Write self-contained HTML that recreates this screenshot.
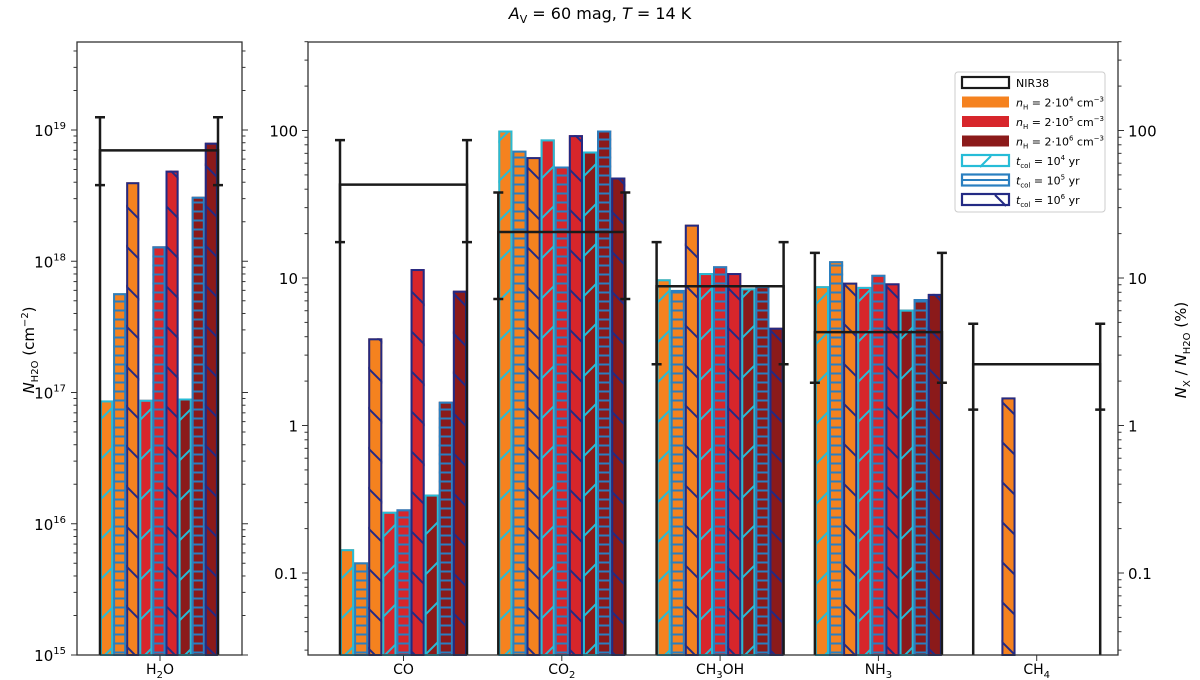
<!DOCTYPE html>
<html><head><meta charset="utf-8"><style>
body{margin:0;background:#fff;}
svg{display:block;font-family:"DejaVu Sans","Liberation Sans",sans-serif;}
</style></head><body>
<svg id="chart" width="1200" height="680" viewBox="0 0 1200 680" xmlns="http://www.w3.org/2000/svg">
<defs>
<pattern id="h-c" patternUnits="userSpaceOnUse" width="40" height="40"><path d="M-10,10 L10,-10 M0,40 L40,0 M30,50 L50,30" stroke="#26bcd7" stroke-width="2"/></pattern>
<pattern id="h-b" patternUnits="userSpaceOnUse" width="10" height="9"><path d="M0,4.5 L10,4.5" stroke="#2a7fc0" stroke-width="2"/></pattern>
<pattern id="h-n" patternUnits="userSpaceOnUse" width="40" height="40"><path d="M-10,30 L10,50 M0,0 L40,40 M30,-10 L50,10" stroke="#232a84" stroke-width="2"/></pattern>
</defs>
<text x="600" y="19" text-anchor="middle" font-size="16"><tspan font-style="italic">A</tspan><tspan font-size="11" dy="4">V</tspan><tspan dy="-4"> = 60 mag,  </tspan><tspan font-style="italic">T</tspan> = 14 K</text>
<g id="plot"></g>
</svg>
<script>
const ns="http://www.w3.org/2000/svg";
const root=document.getElementById('plot');
const colors=["#f5821f","#d7262b","#8b1a1a"];
const hatchColors=["#26bcd7","#2a7fc0","#232a84"];
const hatchIds=["h-c","h-b","h-n"];
// data
const h2oValues=[8.7e16,5.7e17,4e18,8.8e16,1.3e18,4.9e18,9e16,3.1e18,8e18];
const h2oObs=[7e18,3.8e18,1.25e19];
const categories=["CO","CO2","CH3OH","NH3","CH4"];
const coValues=[0.145,0.118,3.9,0.26,0.27,11.5,0.34,1.45,8.2];
const co2Values=[100,73,66,87,57,93,72,100,48];
const ch3ohValues=[9.8,8.3,23,10.8,12,10.8,8.5,8.8,4.6];
const nh3Values=[8.8,13,9.3,8.7,10.5,9.2,6.1,7.2,7.8];
const ch4Values=[0,0,1.55,0,0,0,0,0,0];
const obsCenter=[43,20.5,8.8,4.3,2.6];
const obsLow=[17.5,7.2,2.6,1.95,1.28];
const obsHigh=[86,38,17.5,14.8,4.9];
const leftTicks=[15,16,17,18,19];
const rightTickVals=[0.1,1,10,100];
const rightTickLabels=["0.1","1","10","100"];
const series=[coValues,co2Values,ch3ohValues,nh3Values,ch4Values];

function el(tag,attrs,parent){const e=document.createElementNS(ns,tag);for(const k in attrs)e.setAttribute(k,attrs[k]);(parent||root).appendChild(e);return e;}
const yB=655,yT=42;
const yL=v=>655-(Math.log10(v)-15)*131.25;
const yR=v=>573-(Math.log10(v)+1)*147.5;
const L={x0:77,x1:242}, R={x0:308,x1:1118};
const xLbar=i=>100+i*13.1; const wL=13.1;
const groupCenter=g=>403.5+g*158.3; const half=63.5; const wR=2*half/9;
const xRbar=(g,i)=>groupCenter(g)-half+i*wR;

function bar(x,w,y,i,name){
  const ci=Math.floor(i/3), hi=i%3;
  let r=el('rect',{x:x,y:y,width:w,height:yB-y,fill:colors[ci]});
  
  
  el('rect',{x:x,y:y,width:w,height:yB-y,fill:'url(#'+hatchIds[hi]+')'});
  el('rect',{x:x+1,y:y+1,width:w-2,height:yB-y-1,fill:'none',stroke:hatchColors[hi],'stroke-width':2});
}
function obs(xa,xb,yc,ylo,yhi,name){
  const g=el('g',{});
  
  
  el('path',{d:`M${xa},${yB} L${xa},${yc} L${xb},${yc} L${xb},${yB}`,fill:'none',stroke:'#1a1a1a','stroke-width':2.5},g);
  for(const x of [xa,xb]){
    el('path',{d:`M${x},${ylo} L${x},${yhi} M${x-5},${ylo} L${x+5},${ylo} M${x-5},${yhi} L${x+5},${yhi}`,stroke:'#1a1a1a','stroke-width':2.5},g);
  }
}
h2oValues.forEach((v,i)=>bar(xLbar(i),wL,yL(v),i,'bar-h2o-'+i));
obs(100,218,yL(h2oObs[0]),yL(h2oObs[1]),yL(h2oObs[2]),'nir38-h2o');
series.forEach((arr,g)=>arr.forEach((v,i)=>{if(v>0)bar(xRbar(g,i),wR,yR(v),i,'bar-'+categories[g].toLowerCase()+'-'+i);}));
categories.forEach((c,g)=>obs(groupCenter(g)-half,groupCenter(g)+half,yR(obsCenter[g]),yR(obsLow[g]),yR(obsHigh[g]),'nir38-'+c.toLowerCase()));
for(const p of [L,R]){el('rect',{x:p.x0,y:yT,width:p.x1-p.x0,height:yB-yT,fill:'none',stroke:'#333','stroke-width':1.3});}
function logTicks(scale,lo,hi,xs){
  for(let d=lo;d<=hi;d++){for(let m=1;m<10;m++){const v=m*Math.pow(10,d);const y=scale(v);if(y<yT-0.5||y>yB+0.5)continue;const len=m==1?6:3.5;
    for(const [x,dir] of xs) el('line',{x1:x,x2:x+dir*len,y1:y,y2:y,stroke:'#333','stroke-width':1});}}
}
logTicks(yL,15,19,[[L.x0,-1],[L.x1,1]]);
logTicks(yR,-2,2,[[R.x0,-1],[R.x1,1]]);
leftTicks.forEach(t=>{const tx=el('text',{x:66,y:yL(Math.pow(10,t))+6,'text-anchor':'end','font-size':15});
  tx.innerHTML='10<tspan font-size="10" dy="-7">'+t+'</tspan>';
  
  });
rightTickVals.forEach((v,i)=>{
  for(const [x,a] of [[R.x0-10,'end'],[R.x1+10,'start']]){
    const t=el('text',{x:x,y:yR(v)+6,'text-anchor':a,'font-size':15});t.textContent=rightTickLabels[i];
    
    
  }});
const xl=[[160,'H<tspan font-size="10" dy="4">2</tspan><tspan dy="-4">O</tspan>'],[groupCenter(0),'CO'],[groupCenter(1),'CO<tspan font-size="10" dy="4">2</tspan>'],[groupCenter(2),'CH<tspan font-size="10" dy="4">3</tspan><tspan dy="-4">OH</tspan>'],[groupCenter(3),'NH<tspan font-size="10" dy="4">3</tspan>'],[groupCenter(4),'CH<tspan font-size="10" dy="4">4</tspan>']];
xl.forEach(([x,h])=>{el('line',{x1:x,x2:x,y1:yB,y2:yB+6,stroke:'#333'});const t=el('text',{x:x,y:674,'text-anchor':'middle','font-size':14});t.innerHTML=h;
  
  });
let t=el('text',{transform:'translate(34,350) rotate(-90)','text-anchor':'middle','font-size':15});
t.innerHTML='<tspan font-style="italic">N</tspan><tspan font-size="10" dy="4">H2O</tspan><tspan dy="-4">  (cm</tspan><tspan font-size="10" dy="-6">−2</tspan><tspan dy="6">)</tspan>';


t=el('text',{transform:'translate(1186,350) rotate(-90)','text-anchor':'middle','font-size':15});
t.innerHTML='<tspan font-style="italic">N</tspan><tspan font-size="10" dy="4">X</tspan><tspan dy="-4"> / </tspan><tspan font-style="italic">N</tspan><tspan font-size="10" dy="4">H2O</tspan><tspan dy="-4">  (%)</tspan>';


const lg=el('g',{});


el('rect',{x:955,y:72,width:150,height:140,fill:'#fff',stroke:'#ccc',rx:3},lg);
const entries=[['none','#1a1a1a','NIR38',null],[colors[0],'none','<tspan font-style="italic">n</tspan><tspan font-size="7" dy="3">H</tspan><tspan dy="-3"> = 2·10</tspan><tspan font-size="7" dy="-5">4</tspan><tspan dy="5"> cm</tspan><tspan font-size="7" dy="-5">−3</tspan>',null],
[colors[1],'none','<tspan font-style="italic">n</tspan><tspan font-size="7" dy="3">H</tspan><tspan dy="-3"> = 2·10</tspan><tspan font-size="7" dy="-5">5</tspan><tspan dy="5"> cm</tspan><tspan font-size="7" dy="-5">−3</tspan>',null],
[colors[2],'none','<tspan font-style="italic">n</tspan><tspan font-size="7" dy="3">H</tspan><tspan dy="-3"> = 2·10</tspan><tspan font-size="7" dy="-5">6</tspan><tspan dy="5"> cm</tspan><tspan font-size="7" dy="-5">−3</tspan>',null],
['none',hatchColors[0],'<tspan font-style="italic">t</tspan><tspan font-size="7" dy="3">col</tspan><tspan dy="-3"> = 10</tspan><tspan font-size="7" dy="-5">4</tspan><tspan dy="5"> yr</tspan>','M18,22 L29,11'],
['none',hatchColors[1],'<tspan font-style="italic">t</tspan><tspan font-size="7" dy="3">col</tspan><tspan dy="-3"> = 10</tspan><tspan font-size="7" dy="-5">5</tspan><tspan dy="5"> yr</tspan>','M0,15.5 L47,15.5'],
['none',hatchColors[2],'<tspan font-style="italic">t</tspan><tspan font-size="7" dy="3">col</tspan><tspan dy="-3"> = 10</tspan><tspan font-size="7" dy="-5">6</tspan><tspan dy="5"> yr</tspan>','M33,11 L44,22']];
entries.forEach((e,i)=>{const y=76+i*19.5;
  el('rect',{x:962,y:y+1,width:47,height:11,fill:e[0],stroke:e[1],'stroke-width':e[1]=='none'?0:2.2},lg);
  if(e[3]){el('path',{d:e[3],transform:`translate(962,${y-9})`,stroke:e[1],'stroke-width':2,fill:'none'},lg);}
  const tx=el('text',{x:1016,y:y+11,'font-size':11},lg);tx.innerHTML=e[2];});
</script>
</body></html>
